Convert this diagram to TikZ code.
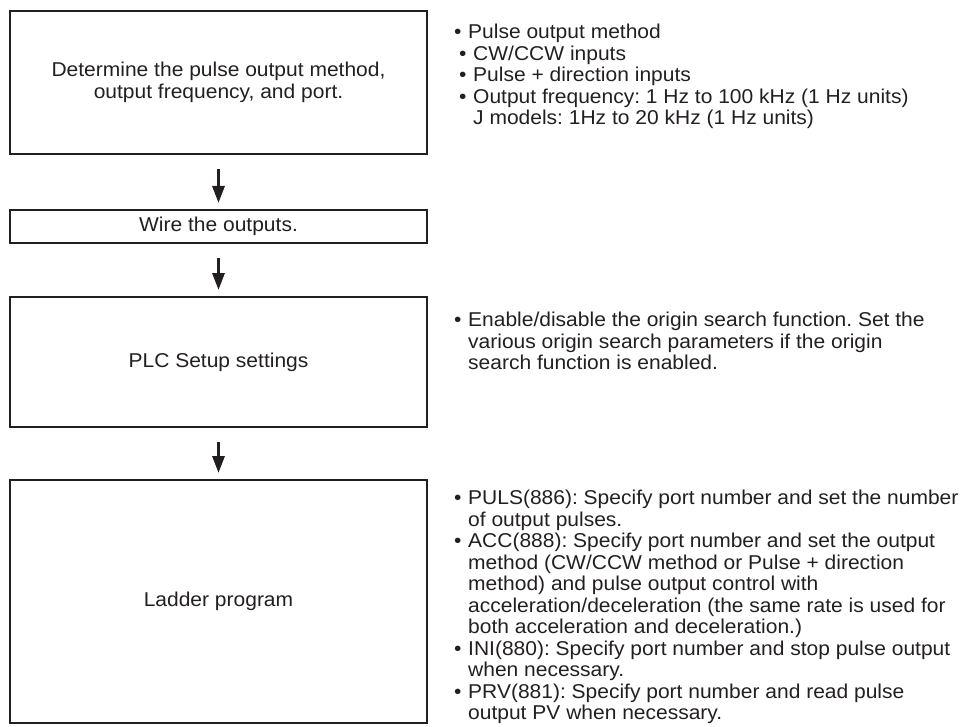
\documentclass[tikz,border=0pt]{standalone}
\usepackage{fontspec}
\setmainfont{Liberation Sans}[FakeStretch=1.05]
\usetikzlibrary{arrows.meta,positioning}
\definecolor{ink}{HTML}{231F20}
\newcommand{\bl}{\makebox[14pt][l]{\textbullet}}
\newcommand{\ind}{\hspace*{14pt}}
\newcommand{\sub}{\hspace*{5pt}}
\frenchspacing

\begin{document}
\begin{tikzpicture}[x=1pt, y=-1pt, node distance=52pt, >={Triangle[width=12pt,length=17pt]},
  every node/.style={font=\fontsize{20}{21.5}\selectfont, text=ink},
  stepbox/.style={draw=ink, line width=2pt, minimum width=417pt, align=center, inner sep=0pt},
  notes/.style={align=left, inner sep=0pt},
  flow/.style={->, draw=ink, line width=3pt, shorten <=14pt, shorten >=6pt}]
\useasboundingbox (0,0) rectangle (971,727);
\node[stepbox, minimum height=143pt] (plan) at (218.5,82.5)
  {Determine the pulse output method,\\output frequency, and port.};
\node[stepbox, minimum height=33pt] (wire) [below=54pt of plan] {Wire the outputs.};
\node[stepbox, minimum height=130pt] (setup) [below=of wire] {PLC Setup settings};
\node[stepbox, minimum height=243pt] (ladder) [below=51pt of setup] {Ladder program};
% notes beside the steps
\node[notes] (plannote) [below right=14pt and 26pt of plan.north east]
  {\bl Pulse output method\\
   \sub\bl CW/CCW inputs\\
   \sub\bl Pulse + direction inputs\\
   \sub\bl Output frequency: 1 Hz to 100 kHz (1 Hz units)\\
   \sub\ind J models: 1Hz to 20 kHz (1 Hz units)};
\node[notes] (setupnote) [below right=16pt and 26pt of setup.north east]
  {\bl Enable/disable the origin search function. Set the\\
   \ind various origin search parameters if the origin\\
   \ind search function is enabled.};
\node[notes] (laddernote) [below right=11pt and 26pt of ladder.north east]
  {\bl PULS(886): Specify port number and set the number\\
   \ind of output pulses.\\
   \bl ACC(888): Specify port number and set the output\\
   \ind method (CW/CCW method or Pulse + direction\\
   \ind method) and pulse output control with\\
   \ind acceleration/deceleration (the same rate is used for\\
   \ind both acceleration and deceleration.)\\
   \bl INI(880): Specify port number and stop pulse output\\
   \ind when necessary.\\
   \bl PRV(881): Specify port number and read pulse\\
   \ind output PV when necessary.};
\draw[flow] (plan) -- (wire);
\draw[flow] (wire) -- (setup);
\draw[flow] (setup) -- (ladder);
\end{tikzpicture}
\end{document}
